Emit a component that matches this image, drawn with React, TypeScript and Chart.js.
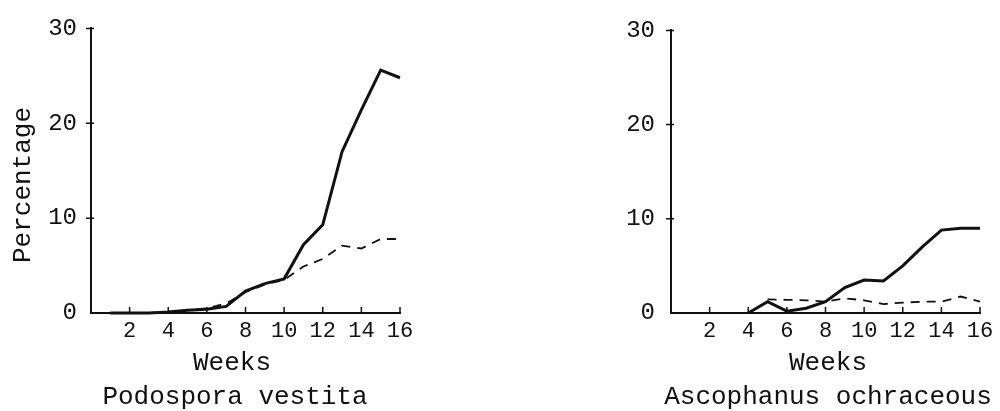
import React, { useEffect, useRef } from "react";
import { Chart, registerables } from "chart.js";

Chart.register(...registerables);

// ---------- data ----------
const podosporaWeeks = [1, 2, 3, 4, 5, 6, 7, 8, 9, 10, 11, 12, 13, 14, 15, 16];
const podosporaSolid = [0, 0, 0, 0.1, 0.3, 0.4, 0.7, 2.3, 3.1, 3.6, 7.2, 9.3, 17.0, 21.4, 25.6, 24.8];
const podosporaDashed = [null, null, 0, 0.1, 0.3, 0.5, 1.0, 2.2, 3.0, 3.5, 4.9, 5.7, 7.1, 6.8, 7.8, 7.8];

const ascophanusWeeks = [4, 5, 6, 7, 8, 9, 10, 11, 12, 13, 14, 15, 16];
const ascophanusSolid = [0, 1.2, 0.2, 0.5, 1.2, 2.7, 3.5, 3.4, 5.0, 7.0, 8.8, 9.0, 9.0];
const ascophanusDashed = [null, 1.45, 1.4, 1.35, 1.2, 1.55, 1.35, 0.95, 1.1, 1.2, 1.2, 1.75, 1.2];

const xTickValues = [2, 4, 6, 8, 10, 12, 14, 16];
const yTickValues = [0, 10, 20, 30];

const xTitle = "Weeks";
const yTitle = "Percentage";
const leftName = "Podospora vestita";
const rightName = "Ascophanus ochraceous";

const INK = "#111";
const FONT = '"Liberation Mono", "DejaVu Sans Mono", monospace';

// ---------- plugins ----------
const panelText = {
  id: "panelText",
  afterDraw(chart: any, _args: any, opts: any) {
    const ctx = chart.ctx;
    ctx.save();
    ctx.fillStyle = INK;
    ctx.font = `26px ${FONT}`;
    ctx.textAlign = "center";
    ctx.textBaseline = "middle";
    for (const t of opts.items || []) {
      ctx.save();
      ctx.translate(t.x, t.y);
      if (t.rotate) ctx.rotate(t.rotate);
      ctx.fillText(t.text, 0, 0);
      ctx.restore();
    }
    ctx.restore();
  },
};

const tickMarks = {
  id: "tickMarks",
  afterDraw(chart: any) {
    const ctx = chart.ctx;
    const xs = chart.scales.x;
    const ys = chart.scales.y;
    const area = chart.chartArea;
    ctx.save();
    ctx.strokeStyle = INK;
    ctx.lineWidth = 1.5;
    ctx.beginPath();
    for (const v of xTickValues) {
      const px = xs.getPixelForValue(v);
      ctx.moveTo(px, area.bottom);
      ctx.lineTo(px, area.bottom - 6);
    }
    for (const v of yTickValues) {
      if (v === 0) continue;
      const py = ys.getPixelForValue(v);
      ctx.moveTo(area.left - 5, py);
      ctx.lineTo(area.left + 3, py);
    }
    ctx.stroke();
    ctx.restore();
  },
};

function makeConfig(
  weeks: number[],
  solid: (number | null)[],
  dashed: (number | null)[],
  yAxisWidth: number,
  rightPad: number,
  yLabelPad: number,
  texts: any[]
): any {
  return {
    type: "line",
    data: {
      datasets: [
        {
          data: weeks.map((w, i) => ({ x: w, y: solid[i] })),
          borderColor: INK,
          borderWidth: 3,
          pointRadius: 0,
          tension: 0,
          spanGaps: false,
          clip: false,
        },
        {
          data: weeks.map((w, i) => ({ x: w, y: dashed[i] })),
          borderColor: INK,
          borderWidth: 1.8,
          borderDash: [9, 7],
          pointRadius: 0,
          tension: 0,
          spanGaps: false,
          clip: false,
        },
      ],
    },
    options: {
      responsive: false,
      animation: false,
      devicePixelRatio: 1,
      layout: { padding: { left: 0, right: rightPad, top: 25, bottom: 0 } },
      plugins: {
        legend: { display: false },
        tooltip: { enabled: false },
        title: { display: false },
        panelText: { items: texts },
      },
      scales: {
        x: {
          type: "linear",
          min: 0,
          max: 16,
          afterBuildTicks: (s: any) => {
            s.ticks = xTickValues.map((v) => ({ value: v }));
          },
          afterFit: (s: any) => {
            s.height = 98;
          },
          grid: { display: false, drawTicks: false },
          border: { display: true, color: INK, width: 2 },
          ticks: {
            color: INK,
            padding: 5,
            maxRotation: 0,
            font: { family: FONT, size: 22 },
          },
        },
        y: {
          type: "linear",
          min: 0,
          max: 30,
          afterBuildTicks: (s: any) => {
            s.ticks = yTickValues.map((v) => ({ value: v }));
          },
          afterFit: (s: any) => {
            s.width = yAxisWidth;
          },
          grid: { display: false, drawTicks: false },
          border: { display: true, color: INK, width: 2 },
          ticks: {
            color: INK,
            padding: yLabelPad,
            font: { family: FONT, size: 24 },
          },
        },
      },
    },
    plugins: [panelText, tickMarks],
  };
}

function Panel({ config }: { config: any }) {
  const ref = useRef<HTMLCanvasElement | null>(null);
  useEffect(() => {
    if (!ref.current) return;
    const chart = new Chart(ref.current, config);
    return () => chart.destroy();
  }, [config]);
  return <canvas ref={ref} width={500} height={411} style={{ display: "block", width: 500, height: 411 }} />;
}

const leftConfig = makeConfig(podosporaWeeks, podosporaSolid, podosporaDashed, 91, 100, 14, [
  { text: yTitle, x: 23, y: 185, rotate: -Math.PI / 2 },
  { text: xTitle, x: 232, y: 363 },
  { text: leftName, x: 235, y: 397 },
]);

const rightConfig = makeConfig(ascophanusWeeks, ascophanusSolid, ascophanusDashed, 171, 20, 16, [
  { text: xTitle, x: 328, y: 363 },
  { text: rightName, x: 328, y: 397 },
]);

export default function App() {
  return (
    <div
      style={{
        position: "absolute",
        left: 0,
        top: 0,
        width: 1000,
        height: 411,
        display: "flex",
        background: "#fff",
      }}
    >
      <Panel config={leftConfig} />
      <Panel config={rightConfig} />
    </div>
  );
}
